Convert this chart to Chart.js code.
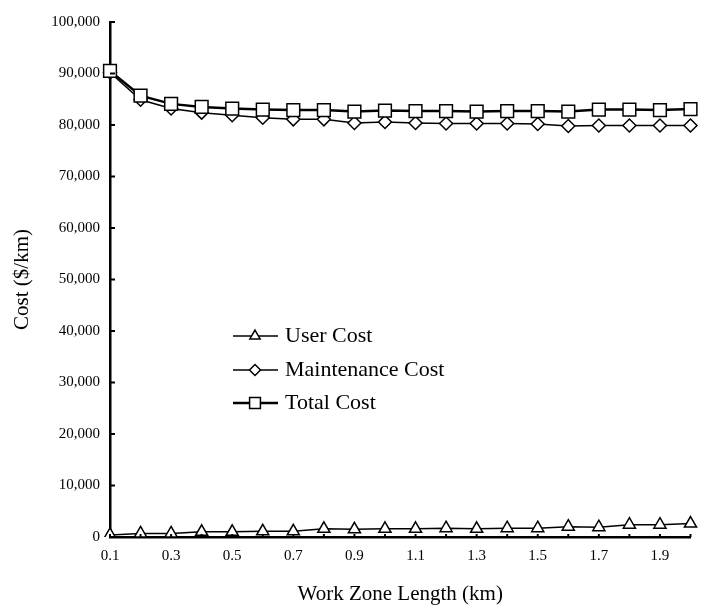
<!DOCTYPE html>
<html>
<head>
<meta charset="utf-8">
<script src="https://cdn.jsdelivr.net/npm/chart.js@4"></script>
<style>
  html, body { margin: 0; padding: 0; background: #fff; }
  #wrap { width: 701px; height: 609px; }
</style>
</head>
<body>
<div id="wrap"><canvas id="costChart" width="701" height="609"></canvas></div>
<script>
const categories = ['0.1', '0.2', '0.3', '0.4', '0.5', '0.6', '0.7', '0.8', '0.9', '1.0',
  '1.1', '1.2', '1.3', '1.4', '1.5', '1.6', '1.7', '1.8', '1.9', '2.0'];

const userCost = [400, 700, 700, 1000, 1000, 1100, 1100, 1600, 1500, 1600,
  1600, 1700, 1600, 1700, 1700, 2000, 1900, 2400, 2400, 2600];

const maintenanceCost = [90200, 84900, 83200, 82400, 81900, 81400, 81100, 81100, 80400, 80600,
  80400, 80300, 80300, 80300, 80200, 79800, 79900, 79900, 79900, 79900];

const totalCost = [90500, 85700, 84100, 83500, 83200, 83000, 82900, 82900, 82600, 82800,
  82700, 82700, 82600, 82700, 82700, 82600, 83000, 83000, 82900, 83100];

const yTicks = [0, 10000, 20000, 30000, 40000, 50000, 60000, 70000, 80000, 90000, 100000];

const serif = '"Liberation Serif", "Times New Roman", serif';

// small inward tick marks, like the printed figure
const innerTicks = {
  id: 'innerTicks',
  afterDatasetsDraw(chart) {
    const ctx = chart.ctx;
    const x = chart.scales.x, y = chart.scales.y;
    ctx.save();
    ctx.strokeStyle = '#000';
    ctx.lineWidth = 2;
    yTicks.forEach(v => {
      const py = y.getPixelForValue(v);
      ctx.beginPath();
      ctx.moveTo(x.left, py);
      ctx.lineTo(x.left + 5, py);
      ctx.stroke();
    });
    categories.forEach((c, i) => {
      const px = x.getPixelForValue(i);
      ctx.beginPath();
      ctx.moveTo(px, y.bottom);
      ctx.lineTo(px, y.bottom - 3);
      ctx.stroke();
    });
    ctx.restore();
  }
};

// legend drawn inside the plot area
const insideLegend = {
  id: 'insideLegend',
  afterDraw(chart) {
    const ctx = chart.ctx;
    const rows = [336, 370, 403];
    ctx.save();
    chart.data.datasets.forEach((ds, i) => {
      const yy = rows[i];
      ctx.strokeStyle = '#000';
      ctx.lineWidth = ds.borderWidth;
      ctx.beginPath();
      ctx.moveTo(233, yy);
      ctx.lineTo(278, yy);
      ctx.stroke();
      ctx.fillStyle = '#fff';
      ctx.strokeStyle = '#000';
      ctx.lineWidth = ds.pointBorderWidth;
      Chart.helpers.drawPoint(ctx, {
        pointStyle: ds.pointStyle,
        radius: ds.pointRadius * 0.85,
        rotation: 0,
        borderWidth: ds.pointBorderWidth
      }, 255, yy);
      ctx.fillStyle = '#000';
      ctx.font = '22px ' + serif;
      ctx.textBaseline = 'middle';
      ctx.textAlign = 'left';
      ctx.fillText(ds.label, 285, yy);
    });
    ctx.restore();
  }
};

const ctx = document.getElementById('costChart').getContext('2d');

new Chart(ctx, {
  type: 'line',
  data: {
    labels: categories,
    datasets: [
      {
        label: 'User Cost',
        data: userCost,
        borderColor: '#000',
        borderWidth: 1.5,
        pointStyle: 'triangle',
        pointRadius: 7,
        pointBackgroundColor: '#fff',
        pointBorderColor: '#000',
        pointBorderWidth: 1.5,
        order: 2
      },
      {
        label: 'Maintenance Cost',
        data: maintenanceCost,
        borderColor: '#000',
        borderWidth: 1.5,
        pointStyle: 'rectRot',
        pointRadius: 6.5,
        pointBackgroundColor: '#fff',
        pointBorderColor: '#000',
        pointBorderWidth: 1.5,
        order: 1
      },
      {
        label: 'Total Cost',
        data: totalCost,
        borderColor: '#000',
        borderWidth: 2.5,
        pointStyle: 'rect',
        pointRadius: 9,
        pointBackgroundColor: '#fff',
        pointBorderColor: '#000',
        pointBorderWidth: 1.5,
        order: 0
      }
    ]
  },
  options: {
    responsive: false,
    animation: false,
    layout: { padding: { left: 0, right: 8, top: 22, bottom: 0 } },
    plugins: {
      legend: { display: false },
      tooltip: { enabled: false }
    },
    scales: {
      x: {
        type: 'category',
        offset: false,
        grid: { display: false, drawTicks: false },
        border: { display: true, color: '#000', width: 2.5 },
        ticks: {
          autoSkip: false,
          maxRotation: 0,
          padding: 10,
          color: '#000',
          font: { family: serif, size: 15 },
          callback: function (val, idx) {
            return idx % 2 === 0 ? categories[idx] : '';
          }
        },
        title: {
          display: true,
          text: 'Work Zone Length (km)',
          color: '#000',
          font: { family: serif, size: 21 },
          padding: { top: 0, bottom: 2 }
        },
        afterFit(scale) { scale.height = 72; }
      },
      y: {
        min: 0,
        max: 100000,
        grid: { display: false, drawTicks: false },
        border: { display: true, color: '#000', width: 2.5 },
        ticks: {
          stepSize: 10000,
          padding: 10,
          color: '#000',
          font: { family: serif, size: 15 },
          callback: v => v.toLocaleString('en-US')
        },
        title: {
          display: true,
          text: 'Cost ($/km)',
          color: '#000',
          font: { family: serif, size: 21 },
          padding: { top: 10, bottom: 0 }
        },
        afterFit(scale) { scale.width = 110; }
      }
    }
  },
  plugins: [innerTicks, insideLegend]
});
</script>
</body>
</html>
